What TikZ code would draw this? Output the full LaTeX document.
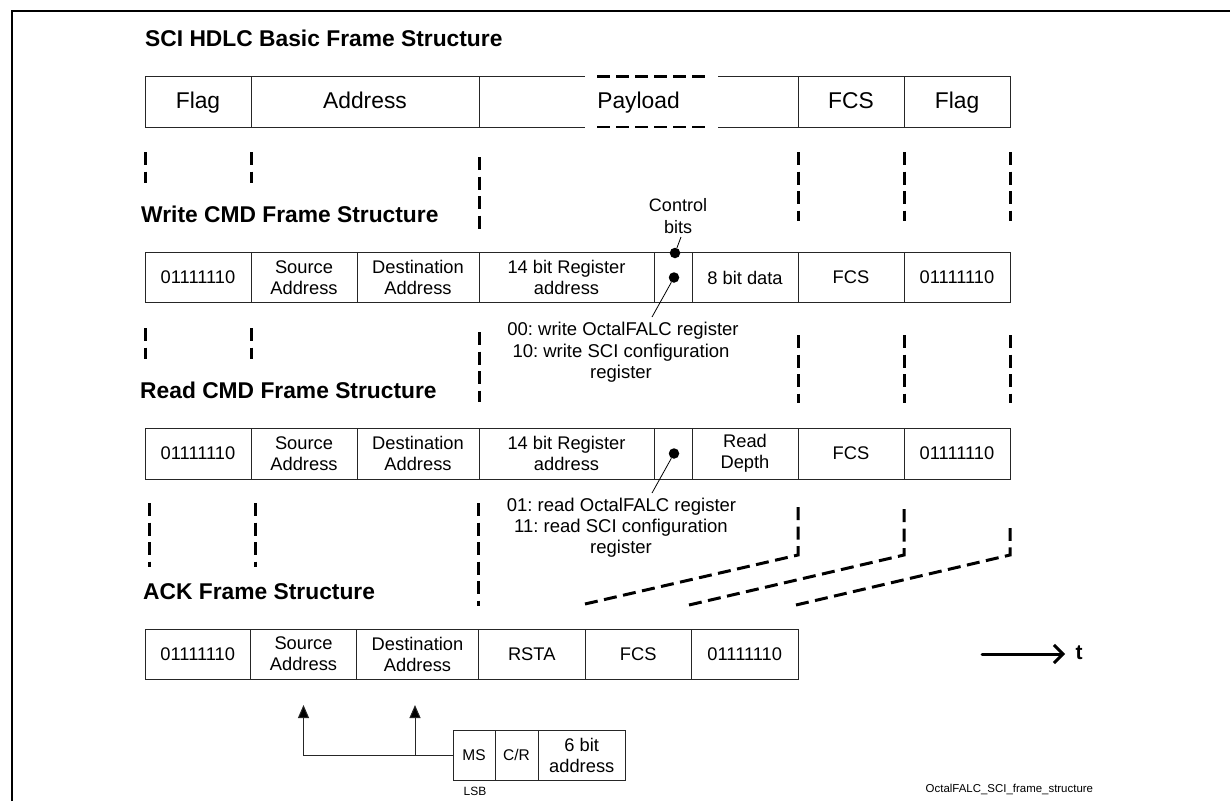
\documentclass[tikz,border=0pt]{standalone}
\usepackage{fontspec}
\setmainfont{Liberation Sans}
\usetikzlibrary{arrows.meta}
\newcommand{\fsz}[2]{\fontsize{#1}{#2}\selectfont}
\newcommand{\frcell}[7][cellb]{%
  \node[#1,minimum width={(#4-#3)*1pt},minimum height={(#6-#5)*1pt}] (#2) at ({(#3+#4)/2},{(#5+#6)/2}) {#7};}
\newcommand{\dashvert}[4]{%
  \coordinate (#1a) at (#2,#3);\coordinate (#1b) at (#2,#4);\draw[gapline] (#1a) -- (#1b);}
\tikzset{
  cellbase/.style={draw=black!85,line width=1pt,inner sep=0pt,outer sep=0pt,align=center},
  cella/.style={cellbase,font=\fsz{22.8}{24},text height=16.5pt,text depth=3.5pt},
  cellb/.style={cellbase,font=\frenchspacing\fsz{18.3}{21}},
  cellc/.style={cellbase,font=\fsz{15.5}{21}},
  openc/.style={cella,draw=none},
  title/.style={anchor=west,inner sep=0pt,font=\bfseries\fsz{22.8}{24}},
  note/.style={inner sep=0pt,font=\frenchspacing\fsz{18.5}{21}},
  ctlnote/.style={inner sep=0pt,align=center,font=\fsz{18}{22}},
  gapline/.style={line width=3pt,dash pattern=on 13pt off 6.5pt},
  paydash/.style={line width=2.8pt,dash pattern=on 13pt off 6pt},
  solidl/.style={draw=black!85,line width=1pt},
  dot/.style={circle,fill=black,inner sep=0pt,minimum size=10.5pt},
  leader/.style={draw=black,line width=0.8pt},
  uparrow/.style={draw=black!85,line width=1pt,-{Triangle[length=13pt,width=11pt,fill=black]}},
}
\begin{document}
\begin{tikzpicture}[x=1pt,y=-1pt]
\useasboundingbox (0,0) rectangle (1230,801);
% outer frame
\coordinate (fbl) at (12,801);\coordinate (ftl) at (12,11);\coordinate (ftr) at (1230,11);
\draw[line width=2.4pt] (fbl) -- (ftl) -- (ftr);
% titles
\node[title] (t1) at (145,38) {SCI HDLC Basic Frame Structure};
\node[title] (t2) at (141,214) {Write CMD Frame Structure};
\node[title] (t3) at (140,390) {Read CMD Frame Structure};
\node[title] (t4) at (143,592) {ACK Frame Structure};
% basic frame
\frcell[cella]{a1}{145}{251}{76.5}{127}{Flag}
\frcell[cella]{a2}{251}{479}{76.5}{127}{Address}
\frcell[openc]{a3}{479}{798}{76.5}{127}{Payload}
\frcell[cella]{a4}{798}{904}{76.5}{127}{FCS}
\frcell[cella]{a5}{904}{1010}{76.5}{127}{Flag}
\coordinate (pt1) at (585,76.5);\coordinate (pt2) at (597,76.5);\coordinate (pt3) at (707,76.5);\coordinate (pt4) at (718,76.5);
\coordinate (pb1) at (585,127);\coordinate (pb2) at (597,127);\coordinate (pb3) at (707,127);\coordinate (pb4) at (718,127);
\draw[solidl] (a3.north west) -- (pt1) (pt4) -- (a3.north east);
\draw[solidl] (a3.south west) -- (pb1) (pb4) -- (a3.south east);
\draw[paydash] (pt2) -- (pt3);
\draw[paydash] (pb2) -- (pb3);
% write frame
\frcell{b1}{145}{251}{252.5}{302.5}{01111110}
\frcell{b2}{251}{357}{252.5}{302.5}{Source\\Address}
\frcell{b3}{357}{479}{252.5}{302.5}{Destination\\Address}
\frcell{b4}{479}{654}{252.5}{302.5}{14 bit Register\\address}
\frcell{b5}{654}{692}{252.5}{302.5}{}
\frcell{b6}{692}{798}{252.5}{302.5}{8 bit data}
\frcell{b7}{798}{904}{252.5}{302.5}{FCS}
\frcell{b8}{904}{1010}{252.5}{302.5}{01111110}
% read frame
\frcell{c1}{145}{251}{428}{479}{01111110}
\frcell{c2}{251}{357}{428}{479}{Source\\Address}
\frcell{c3}{357}{479}{428}{479}{Destination\\Address}
\frcell{c4}{479}{654}{428}{479}{14 bit Register\\address}
\frcell{c5}{654}{692}{428}{479}{}
\frcell{c6}{692}{798}{428}{479}{Read\\Depth}
\frcell{c7}{798}{904}{428}{479}{FCS}
\frcell{c8}{904}{1010}{428}{479}{01111110}
% ack frame
\frcell{d1}{145}{250.5}{629}{679}{01111110}
\frcell{d2}{250.5}{356.5}{629}{679}{Source\\Address}
\frcell{d3}{356.5}{478.5}{629}{679}{Destination\\Address}
\frcell{d4}{478.5}{585}{629}{679}{RSTA}
\frcell{d5}{585}{691.5}{629}{679}{FCS}
\frcell{d6}{691.5}{798}{629}{679}{01111110}
% address byte
\frcell[cellc]{e1}{453}{495}{730}{780}{MS}
\frcell[cellc]{e2}{495}{538}{730}{780}{C/R}
\frcell{e3}{538}{625.5}{730}{780}{6 bit\\address}
\node[inner sep=0pt,font=\fsz{12}{14}] (lsb) at (475,791) {LSB};
\coordinate (tipa) at (303.5,705);\coordinate (tipb) at (415,705);\coordinate (junc) at (415,755);
\draw[uparrow] (e1.west) -| (tipa);
\draw[uparrow] (junc) -- (tipb);
% control bits
\node[ctlnote] (ctl) at (678,216) {Control\\bits};
\node[dot] (dw1) at (675,253) {};
\node[dot] (dw2) at (674,277.5) {};
\node[dot] (dr) at (674,453.5) {};
\coordinate (lw1) at (681,237);\coordinate (lw2) at (652,317);\coordinate (lr) at (652,493);
\draw[leader] (dw1) -- (lw1);
\draw[leader] (dw2) -- (lw2);
\draw[leader] (dr) -- (lr);
\node[note] (nw1) at (623,331) {00: write OctalFALC register};
\node[note] (nw2) at (621,353) {10: write SCI configuration};
\node[note] (nw3) at (621,373.5) {register};
\node[note] (nr1) at (621.5,507) {01: read OctalFALC register};
\node[note] (nr2) at (621,528) {11: read SCI configuration};
\node[note] (nr3) at (621,549) {register};
% projection lines, upper
\dashvert{ua}{145}{152}{183}
\dashvert{ub}{251}{152}{183}
\dashvert{uc}{479}{157}{233}
\dashvert{ud}{798}{152}{221}
\dashvert{ue}{904}{152}{221}
\dashvert{uf}{1010}{152}{221}
% projection lines, middle
\dashvert{ma}{145}{328}{359}
\dashvert{mb}{251}{328}{359}
\dashvert{mc}{479}{332}{402}
\dashvert{md}{798}{335}{403}
\dashvert{me}{904}{335}{403}
\dashvert{mf}{1010}{335}{403}
% projection lines, lower
\dashvert{la}{149}{503}{567}
\dashvert{lb}{255}{503}{567}
\dashvert{lc}{478}{503}{606}
\coordinate (s1a) at (798,507);\coordinate (s1b) at (798,555);\coordinate (s1c) at (585,604);
\coordinate (s2a) at (904,503);\coordinate (s2b) at (904,555);\coordinate (s2c) at (689,605);
\coordinate (s3a) at (1010,528);\coordinate (s3b) at (1010,555);\coordinate (s3c) at (796,605);
\draw[gapline] (s1c) -- (s1b) -- (s1a);
\draw[gapline] (s2c) -- (s2b) -- (s2a);
\draw[gapline] (s3c) -- (s3b) -- (s3a);
% time arrow
\coordinate (ta) at (982,654);\coordinate (tb) at (1065,654);
\draw[line width=3pt,line cap=round,-{Straight Barb[length=9pt,width=18pt,line width=3pt]}] (ta) -- (tb);
\node[anchor=center,inner sep=0pt,font=\bfseries\fsz{21}{24}] (tl) at (1079,653) {t};
% file tag
\node[anchor=west,inner sep=0pt,font=\fsz{11.45}{13}] (tag) at (925.5,789) {OctalFALC\_SCI\_frame\_structure};
\end{tikzpicture}
\end{document}
